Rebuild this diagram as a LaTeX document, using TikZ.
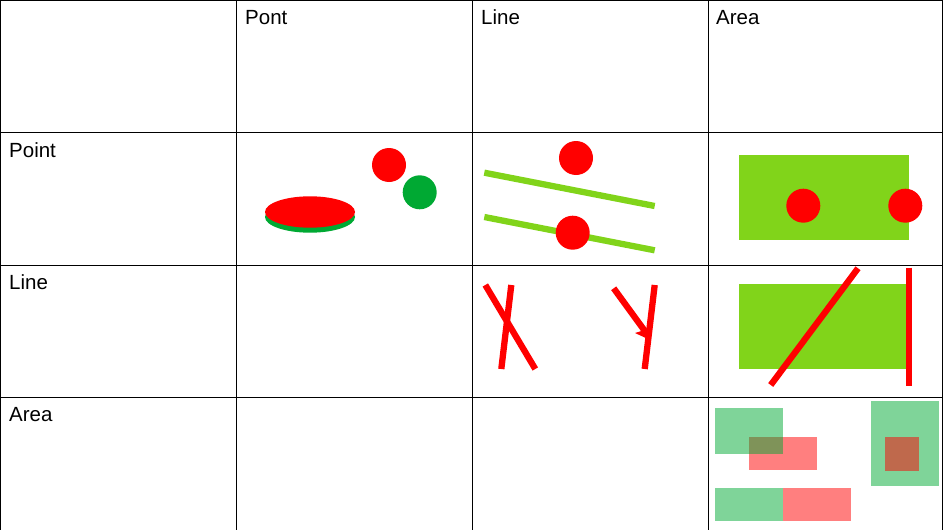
\documentclass[tikz,border=0pt]{standalone}
\usepackage{fontspec}
\setmainfont{Liberation Sans}
\definecolor{limegreen}{HTML}{81D41A}
\definecolor{darkgreen}{HTML}{00A933}

\begin{document}
\begin{tikzpicture}[
  x=1pt,y=-1pt,
  grid/.style={draw=black,line width=0.9pt},
  label/.style={font=\fontsize{20.5}{24}\selectfont,text=black,anchor=base west,inner sep=0pt},
  redline/.style={draw=red,line width=6.3pt},
  greenline/.style={draw=limegreen,line width=6.3pt},
  dot/.style={fill=red},
  patchred/.style={fill=red,fill opacity=0.5},
  patchgreen/.style={fill=darkgreen,fill opacity=0.5},
]
\useasboundingbox (0,0) rectangle (943,530);
\draw[grid] (0.5,530) -- (0.5,0.5) -- (942.5,0.5) -- (942.5,530);
\foreach \x in {236,472,708} \draw[grid] (\x,0) -- (\x,530);
\foreach \y in {132,265,397} \draw[grid] (0,\y) -- (943,\y);
\node[label] (colPont) at (245,24) {Pont};
\node[label] (colLine) at (481,24) {Line};
\node[label] (colArea) at (716,24) {Area};
\node[label] (rowPoint) at (9,157) {Point};
\node[label] (rowLine) at (9,289) {Line};
\node[label] (rowArea) at (9,421) {Area};
\fill[darkgreen] (310,217) ellipse[x radius=45,y radius=15.7];
\fill[red] (310,212) ellipse[x radius=45,y radius=15.7];
\fill[dot] (389,165) circle[radius=17];
\fill[darkgreen] (419.7,192.3) circle[radius=17];
\draw[greenline] (484.3,172.7) -- (654.7,206);
\draw[greenline] (484.3,217) -- (654.7,250.3);
\fill[dot] (576,158) circle[radius=17];
\fill[dot] (572.7,232.7) circle[radius=17];
\fill[limegreen] (739,155) rectangle (908.7,239.7);
\fill[dot] (803.3,205.7) circle[radius=17];
\fill[dot] (905.3,205.7) circle[radius=17];
\draw[redline] (485.3,285) -- (535.3,369);
\draw[redline] (511.3,285) -- (501.3,369);
\draw[redline] (613.7,288.3) -- (647,334);
\fill[red] (635,333) -- (648,329) -- (648,339) -- cycle;
\draw[redline] (654.7,285) -- (644.7,369);
\fill[limegreen] (739,284) rectangle (906.3,368.7);
\draw[redline] (770.7,385) -- (858,268.3);
\draw[redline] (909.3,267.7) -- (909.3,385.7);
\fill[patchred] (749,437) rectangle (817,470.3);
\fill[patchgreen] (715,408) rectangle (783,453.7);
\fill[patchgreen] (715,487.7) rectangle (783,521.3);
\fill[patchred] (783,487.7) rectangle (851,521.3);
\fill[patchgreen] (871.3,401.3) rectangle (939.3,485.7);
\fill[patchred] (885,437) rectangle (919,470.7);
\end{tikzpicture}
\end{document}
